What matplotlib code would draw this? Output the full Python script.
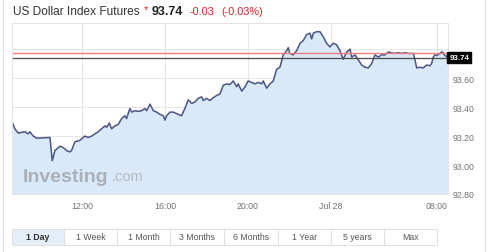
import matplotlib
matplotlib.use('Agg')
import matplotlib.pyplot as plt
from matplotlib.patches import Rectangle

plt.rcParams['font.family'] = ['Liberation Sans', 'DejaVu Sans']

# Price trace (hours on the chart's compressed time axis, index value)
hours = [8.63, 8.77, 8.93, 9.25, 9.41, 9.49, 9.65, 9.82, 10.38, 10.46, 10.57, 10.70,
         10.94, 11.10, 11.26, 11.42, 11.50, 11.66, 11.90, 12.14, 12.30, 12.47, 12.63,
         12.79, 12.95, 13.11, 13.19, 13.32, 13.43, 13.59, 13.75, 13.91, 14.07, 14.15,
         14.31, 14.40, 14.55, 14.71, 14.88, 15.04, 15.12, 15.28, 15.44, 15.60, 15.76,
         15.92, 16.00, 16.08, 16.24, 16.40, 16.64, 16.80, 16.96, 17.12, 17.29, 17.45,
         17.60, 17.77, 17.85, 18.01, 18.17, 18.33, 18.49, 18.65, 18.81, 18.97, 19.13,
         19.29, 19.46, 19.53, 19.70, 19.86, 20.01, 20.18, 20.34, 20.50, 20.66, 20.74,
         20.90, 21.06, 21.22, 21.38, 21.54, 21.70, 21.87, 21.94, 22.02, 22.18, 22.35,
         22.51, 22.67, 22.83, 22.99, 23.07, 23.15, 23.31, 23.47, 23.63, 23.79, 23.95,
         24.11, 24.27, 24.43, 24.59, 24.76, 24.92, 25.00, 25.16, 25.32, 25.48, 25.64,
         25.80, 25.96, 26.12, 26.28, 26.44, 26.60, 26.76, 26.93, 27.08, 27.24, 27.41,
         27.57, 27.73, 27.97, 28.05, 28.13, 28.29, 28.45, 28.61, 28.77, 28.85, 28.93,
         29.01, 29.09, 29.25, 29.33, 29.41, 29.49, 29.57, 29.64]
prices = [93.30, 93.25, 93.22, 93.23, 93.215, 93.23, 93.20, 93.185, 93.19, 93.19, 93.03, 93.10,
          93.13, 93.12, 93.10, 93.09, 93.10, 93.16, 93.17, 93.20, 93.19, 93.20, 93.215,
          93.23, 93.25, 93.27, 93.26, 93.29, 93.25, 93.27, 93.28, 93.32, 93.34, 93.32,
          93.39, 93.365, 93.375, 93.37, 93.375, 93.39, 93.375, 93.42, 93.375, 93.365, 93.35,
          93.34, 93.31, 93.34, 93.365, 93.365, 93.35, 93.34, 93.39, 93.45, 93.425, 93.435,
          93.46, 93.47, 93.445, 93.46, 93.445, 93.465, 93.48, 93.49, 93.55, 93.56, 93.555,
          93.58, 93.54, 93.56, 93.51, 93.54, 93.58, 93.57, 93.56, 93.57, 93.56, 93.58,
          93.53, 93.56, 93.58, 93.66, 93.675, 93.76, 93.79, 93.81, 93.77, 93.76, 93.79,
          93.84, 93.86, 93.90, 93.91, 93.87, 93.91, 93.92, 93.92, 93.885, 93.84, 93.815,
          93.84, 93.83, 93.79, 93.73, 93.78, 93.80, 93.745, 93.76, 93.725, 93.69, 93.675,
          93.67, 93.70, 93.76, 93.745, 93.76, 93.76, 93.78, 93.775, 93.77, 93.775, 93.77,
          93.775, 93.77, 93.77, 93.725, 93.67, 93.675, 93.67, 93.69, 93.685, 93.70, 93.745,
          93.76, 93.755, 93.77, 93.78, 93.775, 93.755, 93.75, 93.74]

prev_close = 93.77
last_price = 93.74

x_ticks = [12, 16, 20, 24, 29.1]
x_labels = ['12:00', '16:00', '20:00', 'Jul 28', '08:00']
y_ticks = [92.80, 93.00, 93.20, 93.40, 93.60, 93.80]
y_labels = ['92.80', '93.00', '93.20', '93.40', '93.60', '']

buttons = ['1 Day', '1 Week', '1 Month', '3 Months', '6 Months', '1 Year', '5 years', 'Max']

W, H = 490, 253
fig = plt.figure(figsize=(W / 100, H / 100), dpi=100)
fig.patch.set_facecolor('white')

# outer widget border
fig.add_artist(Rectangle((3 / W, -0.01), (485 - 3) / W, 1.05, transform=fig.transFigure,
                         fill=False, edgecolor='#e2e2e2', lw=0.8))

ax = fig.add_axes([12 / W, (H - 195) / H, (448 - 12) / W, (195 - 24) / H])
ax.fill_between(hours, prices, 92.0, color='#dae9fa', lw=0)
ax.plot(hours, prices, color='#4a5583', lw=1.1)
ax.axhline(prev_close, color='#ee7f7f', lw=1.0)
ax.axhline(last_price, color='#4a4a4a', lw=0.9)

ax.set_xlim(8.63, 29.64)
ax.set_ylim(92.80, 93.98)
ax.set_xticks(x_ticks)
ax.set_xticklabels(x_labels)
ax.set_yticks(y_ticks)
ax.set_yticklabels(y_labels)
ax.yaxis.tick_right()
ax.tick_params(length=0, labelsize=6.3, colors='#707070', pad=3)
ax.tick_params(axis='x', pad=5)
ax.grid(True, color='#e6e6e6', lw=0.7)
ax.set_axisbelow(True)
for s in ax.spines.values():
    s.set_color('#e4e4e4')
    s.set_linewidth(0.7)

# last price tag
ax.text(1.003, last_price, '93.74', transform=ax.get_yaxis_transform(), ha='left', va='center',
        fontsize=5.8, color='white', fontweight='bold',
        bbox=dict(boxstyle='square,pad=0.25', fc='black', ec='black'))

# watermark
ax.text(0.025, 0.055, 'Investing', transform=ax.transAxes, fontsize=14, fontweight='bold',
        color='#a9b0b8', ha='left', va='bottom')
ax.text(0.228, 0.062, '.com', transform=ax.transAxes, fontsize=10.5,
        color='#b4bac1', ha='left', va='bottom')

# header
fig.text(13 / W, 1 - 12 / H, 'US Dollar Index Futures', fontsize=8.6, color='#333333',
         ha='left', va='center')
fig.text(144 / W, 1 - 10 / H, '*', fontsize=8, color='#e02020', ha='left', va='center')
fig.text(152 / W, 1 - 12 / H, '93.74', fontsize=9, fontweight='bold', color='#222222',
         ha='left', va='center')
fig.text(190 / W, 1 - 12 / H, '-0.03', fontsize=7.8, color='#e02020', ha='left', va='center')
fig.text(221 / W, 1 - 12 / H, '(-0.03%)', fontsize=7.8, color='#e02020', ha='left', va='center')

# range buttons
edges = [12, 64, 117, 170, 224, 278, 331, 384, 437]
for i, name in enumerate(buttons):
    x0, x1 = edges[i], edges[i + 1]
    fig.add_artist(Rectangle((x0 / W, 1 - 246 / H), (x1 - x0) / W, 16 / H,
                             transform=fig.transFigure,
                             facecolor='#e5eef8' if i == 0 else 'white',
                             edgecolor='#e0e0e0', lw=0.7))
    fig.text((x0 + x1) / 2 / W, 1 - 238 / H, name, fontsize=6.3,
             fontweight='bold' if i == 0 else 'normal',
             color='#333333' if i == 0 else '#555555', ha='center', va='center')

fig.savefig('out.png', dpi=100)
